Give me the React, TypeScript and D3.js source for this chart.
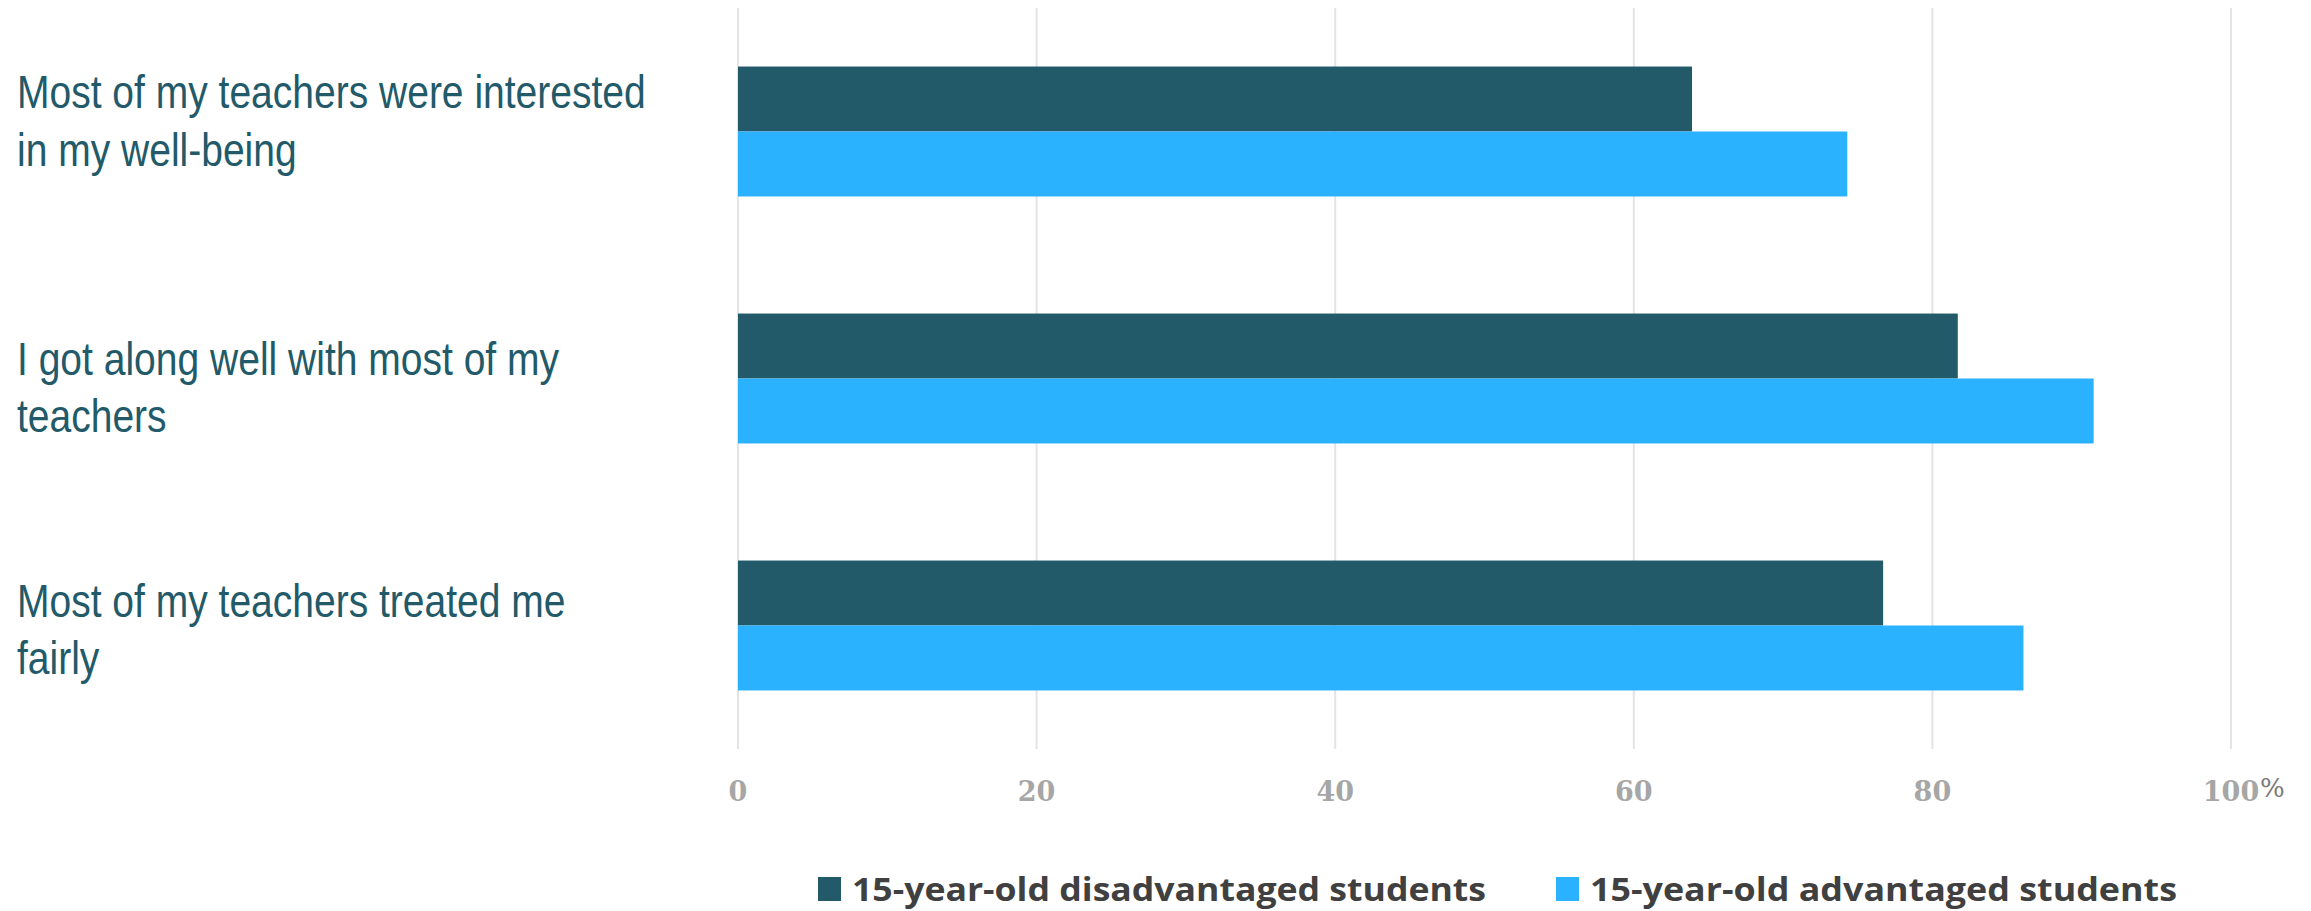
import React from "react";
import * as d3 from "d3";

// Survey statements (each split into its two display lines)
const categories: string[] = [
  "Most of my teachers were interested in my well-being",
  "I got along well with most of my teachers",
  "Most of my teachers treated me fairly",
];
const categoryLines: string[][] = [
  ["Most of my teachers were interested", "in my well-being"],
  ["I got along well with most of my", "teachers"],
  ["Most of my teachers treated me", "fairly"],
];

const seriesNames: string[] = [
  "15-year-old disadvantaged students",
  "15-year-old advantaged students",
];
// Percentage of students agreeing
const disadvantaged: number[] = [63.9, 81.7, 76.7];
const advantaged: number[] = [74.3, 90.8, 86.1];

const tickValues: number[] = [0, 20, 40, 60, 80, 100];

const WIDTH = 2311;
const HEIGHT = 911;
const COLORS = ["#225a69", "#2ab1ff"];
const LABEL_COLOR = "#225a69";

export default function App() {
  const x = d3.scaleLinear().domain([0, 100]).range([738, 2231]);
  const y = d3
    .scaleBand<string>()
    .domain(categories)
    .range([8, 749])
    .paddingInner(0.474)
    .paddingOuter(0.237);
  const ySeries = d3
    .scaleBand<string>()
    .domain(seriesNames)
    .range([0, y.bandwidth()]);

  const values = [disadvantaged, advantaged];

  // vertical nudges of each two-line label relative to its bar group
  const labelShift = [-23.5, -4, -9];
  const lineGap = 57.5;

  const legendX = [818, 1556];

  return (
    <svg
      width={WIDTH}
      height={HEIGHT}
      style={{ position: "absolute", left: 0, top: 0, background: "#fff" }}
    >
      {/* gridlines */}
      {tickValues.map((t) => (
        <line
          key={"g" + t}
          x1={x(t)}
          x2={x(t)}
          y1={8}
          y2={749}
          stroke="#e4e4e4"
          strokeWidth={2}
        />
      ))}

      {/* bars */}
      {categories.map((c, i) =>
        seriesNames.map((s, j) => (
          <rect
            key={c + s}
            x={x(0)}
            y={(y(c) as number) + (ySeries(s) as number)}
            width={x(values[j][i]) - x(0)}
            height={ySeries.bandwidth()}
            fill={COLORS[j]}
          />
        ))
      )}

      {/* category labels */}
      {categories.map((c, i) => {
        const center = (y(c) as number) + y.bandwidth() / 2;
        return categoryLines[i].map((line, k) => {
          const by = center + labelShift[i] + k * lineGap;
          return (
            <text
              key={c + k}
              transform={`translate(17,${by}) scale(0.83,1)`}
              fontFamily="'Liberation Sans', Arial, sans-serif"
              fontSize={47}
              fill={LABEL_COLOR}
            >
              {line}
            </text>
          );
        });
      })}

      {/* x tick labels */}
      {tickValues.map((t) => (
        <g key={"t" + t}>
          <text
            x={x(t)}
            y={801}
            textAnchor="middle"
            fontFamily="'DejaVu Serif', serif"
            fontWeight="bold"
            fontSize={27}
            fill="#a6a6a6"
          >
            {t}
          </text>
          {t === 100 && (
            <text
              x={x(t) + 29}
              y={797}
              fontFamily="'DejaVu Serif', serif"
              fontSize={26}
              fill="#7a7a7a"
            >
              %
            </text>
          )}
        </g>
      ))}

      {/* legend */}
      {seriesNames.map((s, j) => (
        <g key={"l" + s}>
          <rect x={legendX[j]} y={877} width={23} height={24} fill={COLORS[j]} />
          <text
            x={legendX[j] + 34}
            y={901}
            fontFamily="'Open Sans', sans-serif"
            fontWeight="bold"
            fontSize={33}
            fill="#404040"
            textLength={j === 0 ? 634 : 587}
            lengthAdjust="spacingAndGlyphs"
          >
            {s}
          </text>
        </g>
      ))}
    </svg>
  );
}
